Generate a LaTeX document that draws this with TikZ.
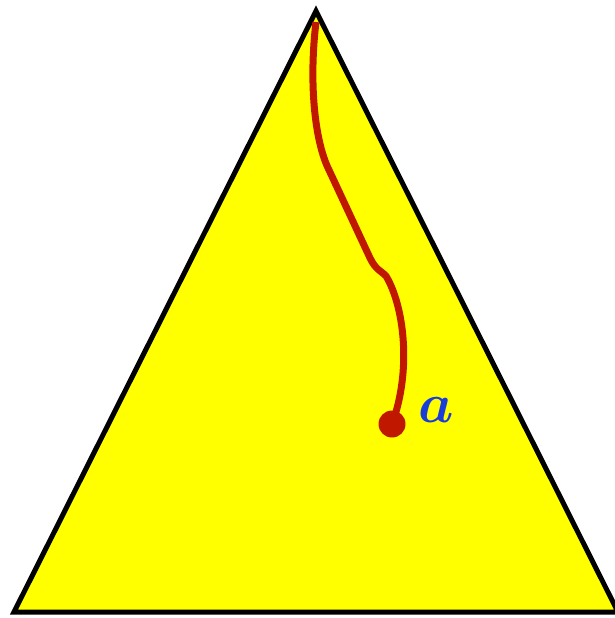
\documentclass[tikz,border=0pt]{standalone}
\usepackage{amsmath}
\usepackage{graphicx}
\definecolor{fillyellow}{HTML}{FFFF00}
\definecolor{pathred}{HTML}{C01800}
\definecolor{labelblue}{HTML}{1A3CD8}
\tikzset{
  simplex/.style={draw=black, line width=5pt, fill=fillyellow, line join=miter},
  pathline/.style={draw=pathred, line width=7pt},
  endpoint/.style={circle, fill=pathred, inner sep=0pt, minimum size=27pt},
  ptlabel/.style={text=labelblue, inner sep=0pt}
}
\begin{document}
\begin{tikzpicture}[x=1pt, y=-1pt]
\useasboundingbox (0,0) rectangle (614,618);
\coordinate (A) at (14,612);
\coordinate (B) at (618,612);
\coordinate (C) at (316,11);
\draw[simplex] (A) -- (B) -- (C) -- cycle;
\node[endpoint] (P) at (392,424) {};
\node[ptlabel] (lab) at (436,410) {\scalebox{5.6}{$\boldsymbol{a}$}};
\draw[pathline] (316,22) .. controls (309,80) and (314,140) .. (329,170)
  -- (370,258) .. controls (376,270) and (380,270) .. (386,276)
  .. controls (404,306) and (412,370) .. (P.center);
\end{tikzpicture}
\end{document}
